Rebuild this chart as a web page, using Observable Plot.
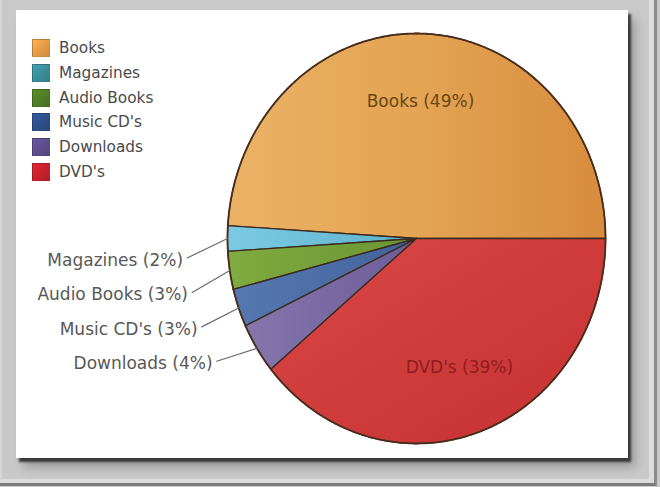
<!DOCTYPE html>
<html>
<head>
<meta charset="utf-8">
<script src="https://cdn.jsdelivr.net/npm/d3@7"></script>
<script src="https://cdn.jsdelivr.net/npm/@observablehq/plot@0.6"></script>
<style>
html, body { margin: 0; padding: 0; }
body { width: 660px; height: 487px; overflow: hidden; background: #c9c9c9; position: relative; font-family: "DejaVu Sans", sans-serif; }
#frame { position: absolute; left: 0; top: 0; width: 654px; height: 483px; border-right: 3px solid #8a8a8a; border-bottom: 3px solid #7c7c7c; box-shadow: inset -5px -4px 0 #dcdcdc, inset 2px 0 0 #d6d6d6; }
#panel { position: absolute; left: 16px; top: 10px; width: 612px; height: 448px; background: #fff; box-shadow: 3px 4px 2px rgba(40,40,40,0.85), 7px 9px 10px rgba(0,0,0,0.25); }
#chart { position: absolute; left: 0; top: 0; }
#legend { position: absolute; left: 32px; top: 35.6px; }
.item { display: flex; align-items: center; height: 24.8px; font-size: 15.3px; color: #4a4a4a; white-space: pre; }
.sw { width: 18px; height: 18px; margin-right: 9px; box-sizing: border-box; border: 1px solid rgba(0,0,0,0.15); }
</style>
</head>
<body>
<svg width="0" height="0" style="position:absolute">
  <defs>
    <linearGradient id="g0" x1="0" x2="1" y1="0" y2="0"><stop offset="0" stop-color="#ebb266"/><stop offset="0.5" stop-color="#e3a453"/><stop offset="1" stop-color="#d88c3d"/></linearGradient>
    <linearGradient id="g1" x1="0" x2="1" y1="0" y2="0"><stop offset="0" stop-color="#7acae2"/><stop offset="1" stop-color="#5fb3cf"/></linearGradient>
    <linearGradient id="g2" x1="0" x2="1" y1="0" y2="0"><stop offset="0" stop-color="#80ab40"/><stop offset="1" stop-color="#6a9532"/></linearGradient>
    <linearGradient id="g3" x1="0" x2="1" y1="0" y2="0"><stop offset="0" stop-color="#5678b0"/><stop offset="1" stop-color="#43629b"/></linearGradient>
    <linearGradient id="g4" x1="0" x2="1" y1="0" y2="0"><stop offset="0" stop-color="#8676ae"/><stop offset="1" stop-color="#6c5c98"/></linearGradient>
    <linearGradient id="g5" x1="0" x2="1" y1="0" y2="1"><stop offset="0" stop-color="#da4747"/><stop offset="1" stop-color="#c63131"/></linearGradient>
  </defs>
</svg>
<div id="frame"></div>
<div id="panel"></div>
<div id="chart"></div>
<div id="legend"></div>
<script>
// ---- data ----
const categories = ["Books", "Magazines", "Audio Books", "Music CD's", "Downloads", "DVD's"];
const shares = [49, 2, 3, 3, 4, 39];
const legendColors = ["#e39b45", "#3b8d99", "#4f7e26", "#2e508b", "#5d4d8e", "#c8212d"];
const sliceFills = ["url(#g0)", "url(#g1)", "url(#g2)", "url(#g3)", "url(#g4)", "url(#g5)"];

// ---- layout constants ----
const insideR = 0.67, labelR = 1.24, labelStartY = -0.107, labelGap = 0.168;

const rows = categories.map((c, i) => ({category: c, share: shares[i]}));
const pie = d3.pie().sort(null).value(d => d.share)
  .startAngle(Math.PI / 2).endAngle(Math.PI / 2 - 2 * Math.PI);
const arcs = pie(rows);

// slice polygons (unit circle, y up)
const polys = arcs.flatMap(a => {
  const c = a.data.category;
  const n = Math.max(4, Math.ceil(Math.abs(a.endAngle - a.startAngle) / 0.01));
  const pts = [{category: c, x: 0, y: 0}];
  for (let i = 0; i <= n; i++) {
    const t = a.startAngle + (a.endAngle - a.startAngle) * i / n;
    pts.push({category: c, x: Math.sin(t), y: Math.cos(t)});
  }
  pts.push({category: c, x: 0, y: 0});
  return pts;
});

const mid = a => (a.startAngle + a.endAngle) / 2;
const inside = arcs.filter(a => a.data.share >= 10).map(a => ({
  text: `${a.data.category} (${a.data.share}%)`,
  x: insideR * Math.sin(mid(a)), y: insideR * Math.cos(mid(a)),
  color: a.data.category === "Books" ? "#6a4613" : "#8e1e1e"
}));
const outside = arcs.filter(a => a.data.share < 10).map((a, k) => {
  const ly = labelStartY - k * labelGap;
  const lx = -Math.sqrt(labelR * labelR - ly * ly);
  return {
    category: a.data.category,
    text: `${a.data.category} (${a.data.share}%)`,
    lx, ly, ex: Math.sin(mid(a)), ey: Math.cos(mid(a))
  };
});
const leaders = outside.flatMap(o => [
  {category: o.category, x: o.lx + 0.022, y: o.ly + 0.012},
  {category: o.category, x: o.ex, y: o.ey}
]);

const chart = Plot.plot({
  width: 660, height: 487,
  margin: 0,
  style: {background: "transparent", fontFamily: "DejaVu Sans, sans-serif"},
  x: {domain: [-1, 1], range: [227, 605], axis: null},
  y: {domain: [-1, 1], range: [443, 33], axis: null},
  color: {type: "ordinal", domain: categories, range: sliceFills},
  marks: [
    Plot.line(polys, {x: "x", y: "y", z: "category", fill: "category", stroke: "#3a2a20", strokeWidth: 1.3, strokeLinejoin: "round"}),
    Plot.line(polys.filter(d => !(d.x === 0 && d.y === 0)), {x: "x", y: "y", z: "category", stroke: "#4a2e1c", strokeWidth: 1.8}),
    Plot.text(inside, {x: "x", y: "y", text: "text", fill: "color", fontSize: 17}),
    Plot.line(leaders, {x: "x", y: "y", z: "category", stroke: "#6a6a6a", strokeWidth: 1.2}),
    Plot.text(outside, {x: "lx", y: "ly", text: "text", textAnchor: "end", fill: "#585858", fontSize: 17})
  ]
});
document.getElementById("chart").appendChild(chart);

// legend
const legend = document.getElementById("legend");
categories.forEach((c, i) => {
  const item = document.createElement("div");
  item.className = "item";
  const sw = document.createElement("div");
  sw.className = "sw";
  sw.style.background = `linear-gradient(135deg, ${d3.color(legendColors[i]).brighter(0.35)} 0%, ${legendColors[i]} 55%, ${d3.color(legendColors[i]).darker(0.3)} 100%)`;
  const label = document.createElement("span");
  label.textContent = c;
  item.appendChild(sw);
  item.appendChild(label);
  legend.appendChild(item);
});
</script>
</body>
</html>
